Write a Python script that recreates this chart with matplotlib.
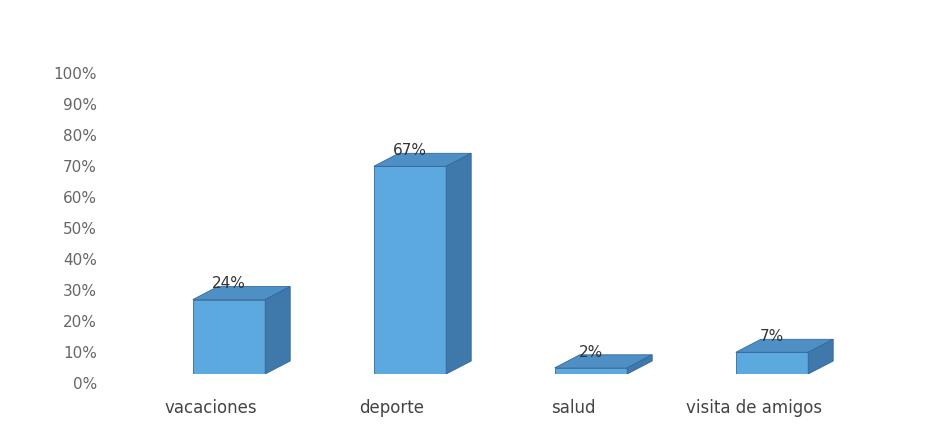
import numpy as np
import matplotlib
matplotlib.use('Agg')
import matplotlib.pyplot as plt
from matplotlib.patches import Polygon
from matplotlib.transforms import blended_transform_factory

categories = ['vacaciones', 'deporte', 'salud', 'visita de amigos']
values = [0.24, 0.67, 0.02, 0.07]
value_labels = ['24%', '67%', '2%', '7%']
tick_values = np.arange(0, 1.01, 0.1)
tick_labels = [f'{int(round(t * 100))}%' for t in tick_values]

FRONT = '#5CA9DF'
TOP = '#4E8FC6'
SIDE = '#3F78AA'
EDGE = '#35689A'

W, H = 946, 427
# pixel geometry of the plotting area (front plane)
PX_PER_CAT = 181.0
PX_PER_UNIT = 310.0
DEPTH_X = 25 / PX_PER_CAT
DEPTH_Y = 13 / PX_PER_UNIT
BAR_W = 0.40

fig = plt.figure(figsize=(W / 100, H / 100), dpi=100)
fig.patch.set_facecolor('white')
left = (229 - PX_PER_CAT / 2) / W
bottom = (H - 375) / H
ax = fig.add_axes([left, bottom, 4 * PX_PER_CAT / W, PX_PER_UNIT / H])
ax.set_xlim(-0.5, 3.5)
ax.set_ylim(0, 1)
ax.axis('off')

x = np.arange(len(categories))
for xi, v, lab in zip(x, values, value_labels):
    x0, x1 = xi - BAR_W / 2, xi + BAR_W / 2
    ax.add_patch(Polygon([(x0, 0), (x1, 0), (x1, v), (x0, v)],
                         closed=True, fc=FRONT, ec=EDGE, lw=0.6, zorder=3))
    ax.add_patch(Polygon([(x0, v), (x1, v), (x1 + DEPTH_X, v + DEPTH_Y),
                          (x0 + DEPTH_X, v + DEPTH_Y)],
                         closed=True, fc=TOP, ec=EDGE, lw=0.6, zorder=3))
    ax.add_patch(Polygon([(x1, 0), (x1 + DEPTH_X, DEPTH_Y),
                          (x1 + DEPTH_X, v + DEPTH_Y), (x1, v)],
                         closed=True, fc=SIDE, ec=EDGE, lw=0.6, zorder=3))
    ax.text(xi, v + DEPTH_Y - 0.012, lab, ha='center', va='bottom',
            fontsize=11, color='#333333', zorder=4)

# y axis labels (sit a little below the front plane, as in the original)
tick_off = 10 / PX_PER_UNIT
ytrans = blended_transform_factory(fig.transFigure, ax.transData)
for t, lab in zip(tick_values, tick_labels):
    ax.text(97 / W, t - tick_off, lab, transform=ytrans, ha='right', va='center',
            fontsize=11, color='#666666')

# category labels
for xi, cat in zip(x, categories):
    ax.text(xi - 18 / PX_PER_CAT, -33 / PX_PER_UNIT, cat, ha='center', va='center',
            fontsize=12, color='#444444')

fig.savefig('out.png', dpi=100, facecolor='white')
